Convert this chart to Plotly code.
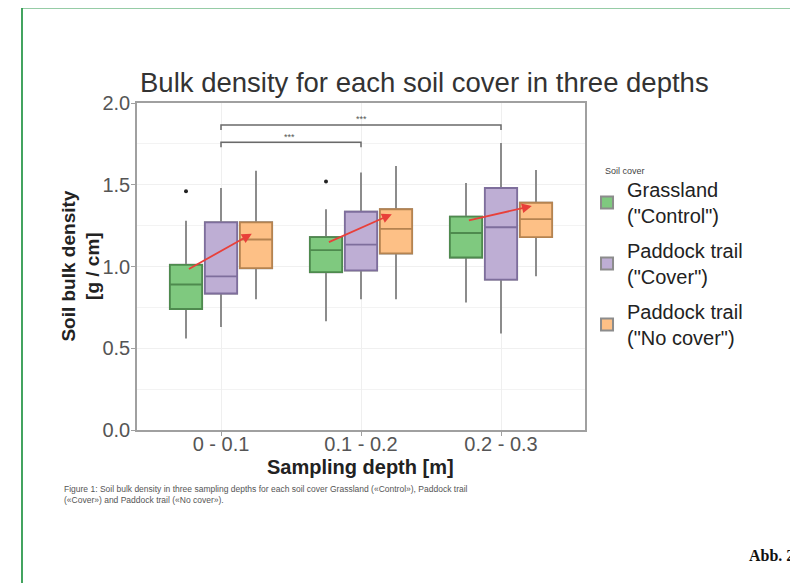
import plotly.graph_objects as go

# ---------------- data ----------------
depths = ["0 - 0.1", "0.1 - 0.2", "0.2 - 0.3"]
covers = ["Grassland<br>(\"Control\")", "Paddock trail<br>(\"Cover\")", "Paddock trail<br>(\"No cover\")"]

grass_low = [0.56, 0.665, 0.78]
grass_q1 = [0.74, 0.965, 1.055]
grass_med = [0.89, 1.10, 1.205]
grass_q3 = [1.01, 1.18, 1.305]
grass_high = [1.28, 1.35, 1.51]
grass_out = [1.46, 1.52, None]

cover_low = [0.63, 0.80, 0.59]
cover_q1 = [0.835, 0.976, 0.92]
cover_med = [0.94, 1.134, 1.24]
cover_q3 = [1.27, 1.335, 1.48]
cover_high = [1.48, 1.575, 1.755]
cover_out = [None, None, None]

nocov_low = [0.80, 0.80, 0.94]
nocov_q1 = [0.99, 1.08, 1.18]
nocov_med = [1.165, 1.23, 1.29]
nocov_q3 = [1.27, 1.35, 1.39]
nocov_high = [1.585, 1.615, 1.59]
nocov_out = [None, None, None]

# red trend arrows (start at Grassland, end at No cover)
arrow_start = [0.98, 1.145, 1.28]
arrow_end = [1.20, 1.32, 1.37]

# significance brackets
bracket_from = [0, 0]
bracket_to = [2, 1]
bracket_level = [1.865, 1.76]
bracket_label = ["***", "***"]

y_ticks = [0.0, 0.5, 1.0, 1.5, 2.0]
y_tick_text = ["0.0", "0.5", "1.0", "1.5", "2.0"]

# ---------------- styling ----------------
fills = ["#7FC97F", "#BEAED4", "#FDC086"]
edges = ["#4E8A4E", "#7E6E9C", "#B58350"]
offsets = [-0.25, 0.0, 0.25]
box_w = 0.23
whisker_col = "#8C8C8C"
FONT = "Liberation Sans, Arial, sans-serif"

series = [
    (grass_low, grass_q1, grass_med, grass_q3, grass_high, grass_out),
    (cover_low, cover_q1, cover_med, cover_q3, cover_high, cover_out),
    (nocov_low, nocov_q1, nocov_med, nocov_q3, nocov_high, nocov_out),
]

fig = go.Figure()
base = list(range(len(depths)))

for i, (lo, q1, med, q3, hi, out) in enumerate(series):
    xs = [b + offsets[i] for b in base]
    fig.add_trace(go.Box(
        x=xs, q1=q1, median=med, q3=q3, lowerfence=lo, upperfence=hi,
        width=box_w, fillcolor=fills[i], line=dict(color=whisker_col, width=2),
        whiskerwidth=0, name=covers[i], showlegend=True, legendgroup=f"g{i}",
        hoverinfo="skip",
    ))
    fig.add_trace(go.Box(
        x=xs, q1=q1, median=med, q3=q3, lowerfence=q1, upperfence=q3,
        width=box_w, fillcolor=fills[i], line=dict(color=edges[i], width=1.8),
        whiskerwidth=0, name=covers[i], showlegend=False, legendgroup=f"g{i}",
        hoverinfo="skip",
    ))
    ox = [xs[k] for k in range(len(out)) if out[k] is not None]
    oy = [out[k] for k in range(len(out)) if out[k] is not None]
    if ox:
        fig.add_trace(go.Scatter(x=ox, y=oy, mode="markers",
                                 marker=dict(color="#222222", size=4),
                                 showlegend=False, hoverinfo="skip"))

annotations = []
for k in range(len(depths)):
    annotations.append(dict(
        x=k + offsets[2] - 0.03, y=arrow_end[k], ax=k + offsets[0] + 0.01, ay=arrow_start[k],
        xref="x", yref="y", axref="x", ayref="y", text="", showarrow=True,
        arrowhead=2, arrowsize=1.1, arrowwidth=1.8, arrowcolor="#E8403A",
    ))

shapes = []
for a, b, lev, lab in zip(bracket_from, bracket_to, bracket_level, bracket_label):
    shapes.append(dict(type="path", xref="x", yref="y",
                       path=f"M {a},{lev-0.03} L {a},{lev} L {b},{lev} L {b},{lev-0.03}",
                       line=dict(color="#6A6A6A", width=1.5)))
    annotations.append(dict(x=(a + b) / 2 - (0.0 if b - a > 1 else 0.01), y=lev + 0.035,
                            xref="x", yref="y", text=lab, showarrow=False,
                            font=dict(size=9, color="#555555", family=FONT)))

# green page frame
shapes.append(dict(type="line", xref="paper", yref="paper", x0=-0.2567, x1=1.5, y0=1.292, y1=1.292,
                   line=dict(color="#2E9A4E", width=1.8)))
shapes.append(dict(type="line", xref="paper", yref="paper", x0=-0.2567, x1=-0.2567, y0=1.292, y1=-0.5,
                   line=dict(color="#2E9A4E", width=1.8)))

annotations.append(dict(text="Bulk density for each soil cover in three depths", x=0.642, y=1.064,
                        xref="paper", yref="paper", showarrow=False, xanchor="center", yanchor="middle",
                        font=dict(size=27.5, color="#333333", family=FONT)))
annotations.append(dict(text="<b>Soil bulk density<br>[g / cm]</b>", x=-0.127, y=0.50,
                        xref="paper", yref="paper", showarrow=False, textangle=-90,
                        xanchor="center", yanchor="middle",
                        font=dict(size=19, color="#222222", family=FONT)))
annotations.append(dict(text="<b>Sampling depth [m]</b>", x=0.498, y=-0.112,
                        xref="paper", yref="paper", showarrow=False,
                        xanchor="center", yanchor="middle",
                        font=dict(size=20, color="#222222", family=FONT)))
annotations.append(dict(text="Soil cover", x=(603 - 137) / 448, y=0.792,
                        xref="paper", yref="paper", showarrow=False,
                        xanchor="left", yanchor="middle",
                        font=dict(size=9, color="#444444", family=FONT)))
annotations.append(dict(text="Figure 1: Soil bulk density in three sampling depths for each soil cover Grassland (\u00abControl\u00bb), Paddock trail<br>(\u00abCover\u00bb) and Paddock trail (\u00abNo cover\u00bb).",
                        x=-0.167, y=-0.16, xref="paper", yref="paper", showarrow=False,
                        xanchor="left", yanchor="top", align="left",
                        font=dict(size=8.5, color="#555555", family=FONT)))
annotations.append(dict(text="<b>Abb. 2</b>", x=(796 - 137) / 448, y=(430 - 555) / 327,
                        xref="paper", yref="paper", showarrow=False, xanchor="right", yanchor="middle",
                        font=dict(size=16, color="#111111", family="Liberation Serif, DejaVu Serif, serif")))

fig.update_layout(
    width=790, height=575,
    margin=dict(l=129, r=213, t=95, b=153),
    paper_bgcolor="white", plot_bgcolor="white",
    font=dict(family=FONT),
    showlegend=True,
    legend=dict(x=1.0045, y=0.795, xanchor="left", yanchor="top",
                font=dict(size=20, color="#222222", family=FONT),
                tracegroupgap=6, bgcolor="rgba(0,0,0,0)"),
    shapes=shapes, annotations=annotations,
    xaxis=dict(range=[-0.6, 2.6], tickvals=base, ticktext=depths, showline=True, mirror=True,
               linecolor="#A0A0A0", linewidth=1.5, ticks="outside", ticklen=4, tickcolor="#A0A0A0",
               showgrid=True, gridcolor="#EFEFEF", zeroline=False, ticklabelstandoff=-9,
               tickfont=dict(size=20, color="#555555", family=FONT)),
    yaxis=dict(range=[0, 2.0], tickvals=y_ticks, ticktext=y_tick_text, showline=True, mirror=True,
               linecolor="#A0A0A0", linewidth=1.5, ticks="outside", ticklen=4, tickcolor="#A0A0A0",
               showgrid=True, gridcolor="#F0F0F0", zeroline=False, ticklabelstandoff=-3,
               minor=dict(dtick=0.25, showgrid=True, gridcolor="#F3F3F3"),
               tickfont=dict(size=20, color="#555555", family=FONT)),
)

fig.write_html("out.html")
